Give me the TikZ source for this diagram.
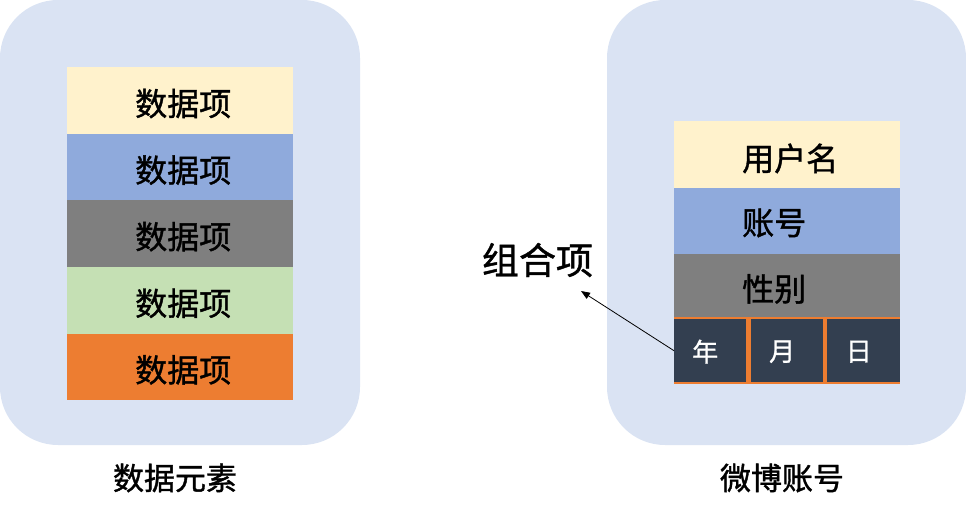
\documentclass[tikz,border=0pt]{standalone}
\usepackage{fontspec}
\newfontfamily\cjk{Noto Sans CJK SC}[FakeBold=1.2]
\usetikzlibrary{arrows.meta}
\definecolor{panel}{HTML}{DAE3F3}
\definecolor{cyellow}{HTML}{FFF2CC}
\definecolor{cblue}{HTML}{8FAADC}
\definecolor{cgray}{HTML}{7F7F7F}
\definecolor{cgreen}{HTML}{C5E0B4}
\definecolor{corange}{HTML}{ED7D31}
\definecolor{cdark}{HTML}{333F50}
\tikzset{
  panelbox/.style={fill=panel, rounded corners=58pt},
  row/.style={anchor=north west, inner sep=0pt, minimum width=226pt, minimum height=66.6pt},
  rowtext/.style={font=\cjk\fontsize{32}{34}\selectfont, text=black, inner sep=0pt},
  cell/.style={anchor=north west, inner sep=0pt, fill=cdark, minimum height=63pt},
  celltext/.style={font=\cjk\fontsize{26}{28}\selectfont, text=white, inner sep=0pt},
  caption/.style={font=\cjk\fontsize{31}{33}\selectfont, text=black},
}
\begin{document}
\begin{tikzpicture}[x=1pt,y=-1pt]
\useasboundingbox (0,0) rectangle (966,519);
% panels
\fill[panelbox] (0,0) rectangle (360,445);
\fill[panelbox] (607,0) rectangle (966,445);
% left stack
\node[row, fill=cyellow] (l1) at (67,67) {};
\node[row, fill=cblue] (l2) at (67,133.6) {};
\node[row, fill=cgray] (l3) at (67,200.2) {};
\node[row, fill=cgreen] (l4) at (67,266.8) {};
\node[row, fill=corange] (l5) at (67,333.4) {};
\foreach \n in {l1,l2,l3,l4,l5}
  \node[rowtext] at ([xshift=3pt,yshift=-3pt]\n.center) {数据项};
% right stack
\node[row, fill=cyellow, minimum height=66.5pt] (r1) at (674,121) {};
\node[row, fill=cblue, minimum height=66.5pt] (r2) at (674,187.5) {};
\node[row, fill=cgray, minimum height=63.5pt] (r3) at (674,254) {};
\node[rowtext, anchor=west] at ([xshift=68pt,yshift=-4pt]r1.west) {用户名};
\node[rowtext, anchor=west] at ([xshift=68pt,yshift=-2pt]r2.west) {账号};
\node[rowtext, anchor=west] at ([xshift=68pt,yshift=-3pt]r3.west) {性别};
\fill[corange] (674,317) rectangle (900,384);
\node[cell, minimum width=72pt] (nian) at (674,319) {};
\node[cell, minimum width=72pt] (yue) at (751,319) {};
\node[cell, minimum width=73pt] (ri) at (827,319) {};
\node[celltext] at ([xshift=-5pt,yshift=-1pt]nian.center) {年};
\node[celltext] at ([xshift=-5pt,yshift=-1pt]yue.center) {月};
\node[celltext] at ([xshift=-5pt,yshift=-1pt]ri.center) {日};
% captions
\node[caption] (capl) at (175,478) {数据元素};
\node[caption] (capr) at (782,478) {微博账号};
\node[font=\cjk\fontsize{37}{39}\selectfont, text=black] (zuhe) at (537.5,260) {组合项};
\coordinate (tip) at (581,291);
\draw[line width=0.8pt, -{Triangle[length=9pt,width=7pt]}] (nian.west) -- (tip);
\end{tikzpicture}
\end{document}
